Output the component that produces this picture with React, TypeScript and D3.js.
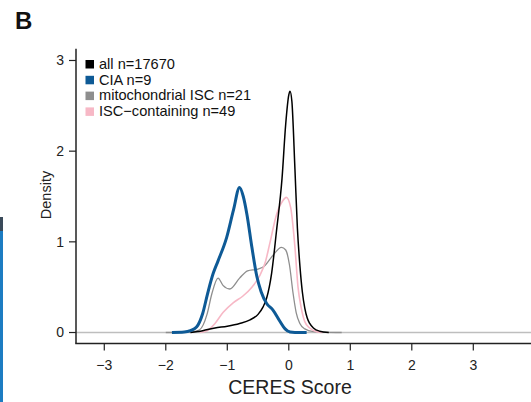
import React from "react";
import * as d3 from "d3";

// ---- data ----
const seriesNames = ["all n=17670", "CIA n=9", "mitochondrial ISC n=21", "ISC\u2212containing n=49"];
const seriesColors = ["#000000", "#0E5A96", "#8E8E8E", "#F7B8C6"];
const xTicks = [-3, -2, -1, 0, 1, 2, 3];
const yTicks = [0, 1, 2, 3];

const allDensity: [number, number][] = [
  [-1.6, 0], [-1.4, 0.02], [-1.2, 0.05], [-1.0, 0.07], [-0.8, 0.1], [-0.63, 0.14], [-0.5, 0.2],
  [-0.42, 0.28], [-0.36, 0.38], [-0.28, 0.65], [-0.2, 1.12], [-0.11, 1.7], [-0.05, 2.3],
  [0.0, 2.62], [0.02, 2.66], [0.05, 2.55], [0.1, 1.8], [0.14, 1.15], [0.18, 0.74], [0.22, 0.45],
  [0.26, 0.27], [0.3, 0.16], [0.34, 0.1], [0.4, 0.05], [0.5, 0.015], [0.65, 0],
];
const ciaDensity: [number, number][] = [
  [-1.9, 0], [-1.7, 0.005], [-1.6, 0.02], [-1.5, 0.06], [-1.4, 0.21], [-1.32, 0.43], [-1.23, 0.65],
  [-1.15, 0.79], [-1.01, 1.05], [-0.9, 1.35], [-0.8, 1.6], [-0.74, 1.5], [-0.68, 1.3], [-0.6, 0.94],
  [-0.52, 0.62], [-0.45, 0.45], [-0.36, 0.32], [-0.26, 0.25], [-0.15, 0.13], [-0.06, 0.04],
  [0.02, 0.005], [0.1, 0], [0.29, 0],
];
const mitoDensity: [number, number][] = [
  [-2.0, 0], [-1.7, 0.002], [-1.55, 0.01], [-1.45, 0.03], [-1.33, 0.2], [-1.25, 0.43], [-1.15, 0.6],
  [-1.07, 0.52], [-0.96, 0.48], [-0.8, 0.6], [-0.67, 0.68], [-0.5, 0.7], [-0.4, 0.73], [-0.26, 0.85],
  [-0.12, 0.94], [-0.05, 0.91], [0.01, 0.75], [0.07, 0.43], [0.12, 0.22], [0.18, 0.1], [0.26, 0.04],
  [0.4, 0.01], [0.6, 0.002], [0.86, 0],
];
const iscDensity: [number, number][] = [
  [-1.45, 0], [-1.33, 0.02], [-1.2, 0.1], [-1.07, 0.22], [-0.9, 0.33], [-0.75, 0.4], [-0.6, 0.5],
  [-0.47, 0.63], [-0.38, 0.78], [-0.31, 0.98], [-0.2, 1.3], [-0.1, 1.45], [-0.04, 1.49], [0.03, 1.38],
  [0.1, 0.94], [0.15, 0.5], [0.2, 0.28], [0.26, 0.12], [0.34, 0.05], [0.45, 0.01], [0.55, 0],
];

export default function App() {
  const W = 531, H = 402;
  const x = d3.scaleLinear().domain([-3.46, 4.0]).range([76, 534.8]);
  const y = d3.scaleLinear().domain([-0.12, 3.13]).range([343.4, 48.7]);
  const line = d3.line<[number, number]>().x((d) => x(d[0])).y((d) => y(d[1])).curve(d3.curveMonotoneX);
  const font = "Liberation Sans, Arial, Helvetica, sans-serif";
  const x0 = x.range()[0];
  const yb = y.range()[0];
  const yt = y.range()[1];

  const curves = [
    { d: mitoDensity, c: seriesColors[2], w: 1.3 },
    { d: iscDensity, c: seriesColors[3], w: 1.6 },
    { d: allDensity, c: seriesColors[0], w: 1.5 },
    { d: ciaDensity, c: seriesColors[1], w: 3 },
  ];

  return (
    <svg width={W} height={H} style={{ position: "absolute", left: 0, top: 0 }} fontFamily={font}>
      <rect x={0} y={0} width={W} height={H} fill="#fff" />
      {/* edge of neighbouring panel */}
      <rect x={0} y={217} width={3} height={185} fill="#1C7CC2" />
      <rect x={0} y={217} width={3} height={14} fill="#3a4a5a" />
      <text x={15} y={29} fontSize={24} fontWeight="bold" fill="#111">B</text>

      {/* zero line */}
      <line x1={x0} x2={W} y1={y(0)} y2={y(0)} stroke="#BEBEBE" strokeWidth={1.6} />

      {curves.map((s, i) => (
        <path key={i} d={line(s.d) || ""} fill="none" stroke={s.c} strokeWidth={s.w} strokeLinejoin="round" />
      ))}

      {/* axes */}
      <line x1={x0} x2={x0} y1={yt} y2={yb} stroke="#222" strokeWidth={1.5} />
      <line x1={x0 - 0.75} x2={W} y1={yb} y2={yb} stroke="#222" strokeWidth={1.5} />
      {yTicks.map((t) => (
        <g key={t}>
          <line x1={x0 - 7} x2={x0} y1={y(t)} y2={y(t)} stroke="#222" strokeWidth={1.2} />
          <text x={64} y={y(t) + 4.8} fontSize={14} textAnchor="end" fill="#222">{t}</text>
        </g>
      ))}
      {xTicks.map((t) => (
        <g key={t}>
          <line x1={x(t)} x2={x(t)} y1={yb} y2={yb + 7} stroke="#222" strokeWidth={1.2} />
          <text x={x(t)} y={369.5} fontSize={14} textAnchor="middle" fill="#222">
            {t < 0 ? "\u2212" + Math.abs(t) : String(t)}
          </text>
        </g>
      ))}
      <text transform="translate(51,195) rotate(-90)" fontSize={14.5} textAnchor="middle" fill="#222">Density</text>
      <text x={290} y={394} fontSize={19.5} textAnchor="middle" fill="#222">CERES Score</text>

      {/* legend */}
      {seriesNames.map((n, i) => (
        <g key={n}>
          <rect x={85.5} y={60 + i * 15.8} width={8.5} height={8.5} fill={seriesColors[i]} />
          <text x={99} y={68.8 + i * 15.8} fontSize={14.6} fill="#111">{n}</text>
        </g>
      ))}
    </svg>
  );
}
